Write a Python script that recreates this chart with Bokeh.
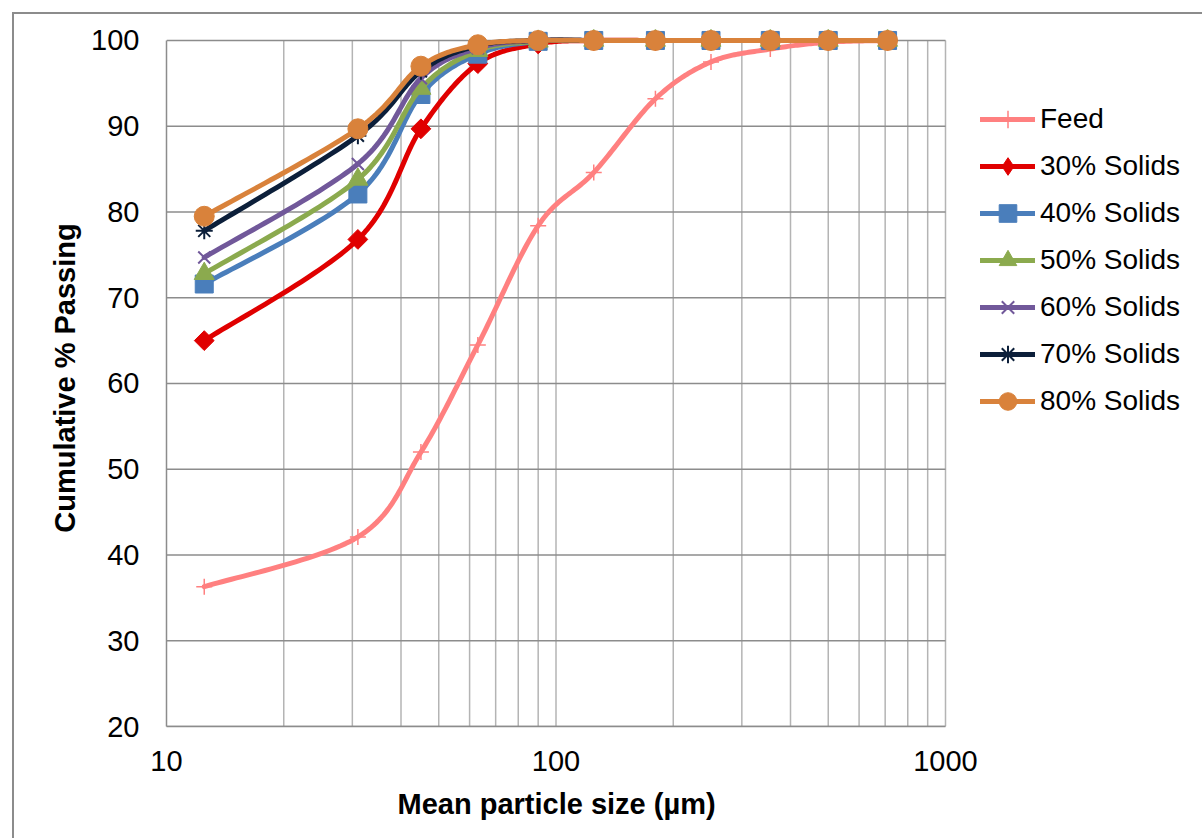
import numpy as np
from bokeh.plotting import figure
from bokeh.models import Range1d, FixedTicker, Legend, LegendItem, NumeralTickFormatter, Title
from bokeh.embed import file_html
from bokeh.resources import INLINE

# Mean particle size of each size class (µm)
sizes = [12.5, 31, 45, 63, 90, 125, 180, 250, 355, 500, 710]

# Cumulative % passing for the feed and each pulp density
feed = [36.3, 42.1, 52.0, 64.5, 78.4, 84.6, 93.2, 97.5, 99.0, 99.8, 100.0]
solids_30 = [65.0, 76.8, 89.7, 97.3, 99.6, 100.0, 100.0, 100.0, 100.0, 100.0, 100.0]
solids_40 = [71.6, 82.1, 93.7, 98.4, 99.9, 100.0, 100.0, 100.0, 100.0, 100.0, 100.0]
solids_50 = [72.8, 83.8, 94.4, 98.8, 99.9, 100.0, 100.0, 100.0, 100.0, 100.0, 100.0]
solids_60 = [74.7, 85.6, 95.6, 99.1, 100.0, 100.0, 100.0, 100.0, 100.0, 100.0, 100.0]
solids_70 = [77.8, 88.9, 96.4, 99.4, 100.0, 100.0, 100.0, 100.0, 100.0, 100.0, 100.0]
solids_80 = [79.5, 89.7, 97.0, 99.5, 100.0, 100.0, 100.0, 100.0, 100.0, 100.0, 100.0]

series_names = ["Feed", "30% Solids", "40% Solids", "50% Solids",
                "60% Solids", "70% Solids", "80% Solids"]

y_ticks = [20, 30, 40, 50, 60, 70, 80, 90, 100]
x_ticks = [10, 100, 1000]

FONT = "Liberation Sans"
X_MIN, X_MAX = 10, 1000          # plotted size range
Y_MIN, Y_MAX = 20, 100           # plotted passing range
PX_PER_DECADE = 389.5
FRAME_H = 697
Y_END = 101.28                   # head-room so markers at 100 % are not clipped
FRAME_W = 1036                   # frame also hosts the legend on the right
X_END = 10 ** (np.log10(X_MIN) + FRAME_W / PX_PER_DECADE)
PX_PER_UNIT = FRAME_H / (Y_END - Y_MIN)


def smooth(xs, ys, n=30):
    """Bezier smoothing (Catmull-Rom style) evaluated in screen proportions."""
    P = np.column_stack([np.log10(xs) * PX_PER_DECADE,
                         np.asarray(ys, dtype=float) * PX_PER_UNIT])
    E = np.vstack([P[0], P, P[-1]])
    parts = []
    for i in range(len(P) - 1):
        p0, p1, p2, p3 = E[i], E[i + 1], E[i + 2], E[i + 3]
        c1 = p1 + (p2 - p0) / 6.0
        c2 = p2 - (p3 - p1) / 6.0
        t = np.linspace(0, 1, n, endpoint=(i == len(P) - 2))[:, None]
        parts.append((1 - t) ** 3 * p1 + 3 * (1 - t) ** 2 * t * c1
                     + 3 * (1 - t) * t ** 2 * c2 + t ** 3 * p2)
    B = np.vstack(parts)
    return 10 ** (B[:, 0] / PX_PER_DECADE), B[:, 1] / PX_PER_UNIT


p = figure(frame_width=FRAME_W, frame_height=FRAME_H, x_axis_type="log",
           x_range=Range1d(X_MIN, X_END), y_range=Range1d(Y_MIN, Y_END),
           output_backend="svg", toolbar_location=None,
           min_border_left=152, min_border_right=0,
           min_border_top=15, min_border_bottom=112)
p.margin = (12, 0, 0, 12)
p.styles = {"border-left": "2px solid #8C8C8C", "border-top": "2px solid #8C8C8C"}
p.outline_line_color = None
p.background_fill_color = "white"
p.border_fill_color = "white"

# grid: vertical lines at decades and subdivisions, horizontal at y ticks,
# both bounded to the plotted area
p.xgrid.visible = False
p.ygrid.visible = False
grid_x = [k * 10 ** d for d in (1, 2) for k in range(2, 10)] + [100, 1000]
p.segment(x0=grid_x, y0=[Y_MIN] * len(grid_x), x1=grid_x, y1=[Y_MAX] * len(grid_x),
          line_color="#B4B4B4", line_width=1.5)
p.segment(x0=[X_MIN] * len(y_ticks), y0=y_ticks, x1=[X_MAX] * len(y_ticks), y1=y_ticks,
          line_color="#8C8C8C", line_width=1.5)

# axes
p.xaxis.ticker = FixedTicker(ticks=x_ticks, minor_ticks=[])
p.yaxis.ticker = FixedTicker(ticks=y_ticks, minor_ticks=[])
p.xaxis.formatter = NumeralTickFormatter(format="0")
p.xaxis.bounds = (X_MIN, X_MAX)
p.yaxis.bounds = (Y_MIN, Y_MAX)
for ax in (p.xaxis[0], p.yaxis[0]):
    ax.axis_line_color = "#8C8C8C"
    ax.axis_line_width = 1.5
    ax.major_tick_in = 0
    ax.major_tick_out = 0
    ax.minor_tick_in = 0
    ax.minor_tick_out = 0
    ax.major_label_text_font = FONT
    ax.major_label_text_font_size = "29px"
    ax.major_label_text_color = "black"
    ax.axis_label_text_font = FONT
    ax.axis_label_text_font_size = "29px"
    ax.axis_label_text_font_style = "bold"
    ax.axis_label_text_color = "black"
p.yaxis.axis_label = "Cumulative % Passing"
p.xaxis.major_label_standoff = 24
p.yaxis.major_label_standoff = 27
p.yaxis.axis_label_standoff = 7

# x-axis title, centred under the 10..1000 span rather than the whole frame
x_title = Title(text="Mean particle size (µm)", align="left", offset=231,
                standoff=25, text_font=FONT, text_font_size="29px",
                text_font_style="bold", text_color="black")
p.add_layout(x_title, "below")

LW = 5
styles = [
    # (values, colour, marker, size, angle, fill, marker line width)
    (feed, "#FF8080", "cross", 16, 0.0, False, 1.5),
    (solids_30, "#E00000", "square", 14, np.pi / 4, True, 1.0),
    (solids_40, "#4A7EBB", "square", 18, 0.0, True, 1.0),
    (solids_50, "#8BAA4E", "triangle", 20, 0.0, True, 1.0),
    (solids_60, "#71589A", "x", 17, 0.0, False, 2.0),
    (solids_70, "#0C1F3A", "asterisk", 17, 0.0, False, 2.0),
    (solids_80, "#D9823B", "circle", 20, 0.0, True, 1.0),
]

items = []
for name, (vals, col, mk, sz, ang, filled, mlw) in zip(series_names, styles):
    sx, sy = smooth(sizes, vals)
    lr = p.line(sx, sy, line_color=col, line_width=LW, line_cap="round", line_join="round")
    mr = p.scatter(sizes, vals, marker=mk, size=sz, angle=ang,
                   fill_color=col if filled else None,
                   line_color=col, line_width=mlw)
    legend_renderers = [lr, mr]
    if name == "30% Solids":
        # legend swatch for the rotated-square marker, kept outside the frame
        proxy = p.scatter([1], [0], marker="diamond", size=20, fill_color=col,
                          line_color=col)
        legend_renderers = [lr, proxy]
    items.append(LegendItem(label=name, renderers=legend_renderers))

legend = Legend(items=items, location=(814, 303), orientation="vertical",
                glyph_width=55, glyph_height=44, label_height=44, spacing=3,
                label_standoff=5, padding=0, margin=0,
                border_line_color=None, background_fill_alpha=0,
                label_text_font=FONT, label_text_font_size="28px",
                label_text_color="black")
p.add_layout(legend, "center")

open("out.html", "w").write(file_html(p, INLINE))
